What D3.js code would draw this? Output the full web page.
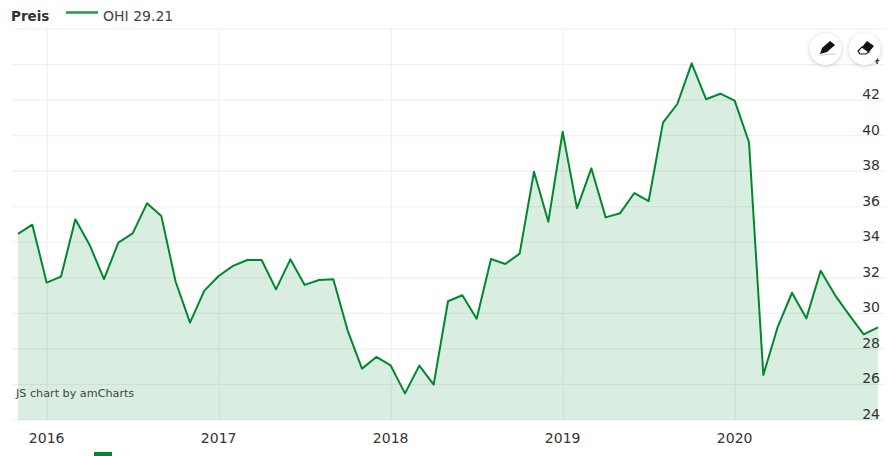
<!DOCTYPE html>
<html>
<head>
<meta charset="utf-8">
<script src="https://cdnjs.cloudflare.com/ajax/libs/d3/7.8.5/d3.min.js"></script>
<style>
body { margin: 0; background: #fff; }
text { font-family: "DejaVu Sans", sans-serif; }
</style>
</head>
<body>
<div id="chart"></div>
<script>
// monthly closes, Nov 2015 - Nov 2020
var months = ["2015-11","2015-12",
    "2016-01","2016-02","2016-03","2016-04","2016-05","2016-06","2016-07","2016-08","2016-09","2016-10","2016-11","2016-12",
    "2017-01","2017-02","2017-03","2017-04","2017-05","2017-06","2017-07","2017-08","2017-09","2017-10","2017-11","2017-12",
    "2018-01","2018-02","2018-03","2018-04","2018-05","2018-06","2018-07","2018-08","2018-09","2018-10","2018-11","2018-12",
    "2019-01","2019-02","2019-03","2019-04","2019-05","2019-06","2019-07","2019-08","2019-09","2019-10","2019-11","2019-12",
    "2020-01","2020-02","2020-03","2020-04","2020-05","2020-06","2020-07","2020-08","2020-09","2020-10","2020-11"];
var prices = [34.47,34.99,31.73,32.07,35.29,33.85,31.93,33.98,34.5,36.19,35.48,31.78,29.48,31.28,
    32.1,32.67,33.0,33.0,31.35,33.04,31.6,31.88,31.92,29.03,26.89,27.55,
    27.07,25.5,27.06,25.99,30.68,31.02,29.7,33.06,32.78,33.36,37.97,35.16,
    40.22,35.91,38.16,35.4,35.63,36.77,36.32,40.73,41.78,44.07,42.05,42.36,
    41.97,39.63,26.53,29.23,31.16,29.72,32.4,31.03,29.9,28.82,29.21];
var yTicks = [24,26,28,30,32,34,36,38,40,42,44,46];
var yearTicks = ["2016","2017","2018","2019","2020"];

var svgWidth = 895;
var svgHeight = 456;

var data = months.map((m, i) => ({month: m, price: prices[i]}));

var svg = d3.select("#chart")
    .append("svg")
    .attr("width", svgWidth)
    .attr("height", svgHeight)
    .style("display", "block");

// index scale, the months are evenly spaced on the category axis
var xScale = d3.scaleLinear()
    .domain([0, months.length - 1])
    .range([18, 878]);

var yScale = d3.scaleLinear()
    .domain([24, 46])
    .range([420, 29]);

var yearX = y => xScale(months.indexOf(y + "-01"));

// grid
svg.append("g").selectAll("line")
    .data(yTicks)
    .enter()
    .append("line")
    .attr("x1", 12)
    .attr("x2", 885)
    .attr("y1", d => yScale(d))
    .attr("y2", d => yScale(d))
    .attr("stroke", "#f0f0f0")
    .attr("stroke-width", 1.2);

svg.append("g").selectAll("line")
    .data(yearTicks)
    .enter()
    .append("line")
    .attr("x1", d => yearX(d) + 0.5)
    .attr("x2", d => yearX(d) + 0.5)
    .attr("y1", 29)
    .attr("y2", 420)
    .attr("stroke", "#f0f0f0")
    .attr("stroke-width", 1.2);

// area and line
var area = d3.area()
    .x((d, i) => xScale(i))
    .y0(yScale(24))
    .y1(d => yScale(d.price));

var line = d3.line()
    .x((d, i) => xScale(i))
    .y(d => yScale(d.price));

svg.append("path")
    .datum(data)
    .attr("d", area)
    .attr("fill", "#00882e")
    .attr("fill-opacity", 0.15);

svg.append("path")
    .datum(data)
    .attr("d", line)
    .attr("fill", "none")
    .attr("stroke", "#00882e")
    .attr("stroke-width", 2)
    .attr("stroke-linejoin", "round");

// y labels sit just above their gridline, 44 ends up behind the eraser button
svg.append("g").selectAll("text")
    .data(yTicks.filter(d => d < 46))
    .enter()
    .append("text")
    .attr("x", 880)
    .attr("y", d => yScale(d) - 1)
    .attr("text-anchor", "end")
    .attr("font-size", 14)
    .attr("fill", "#333")
    .text(d => d);

svg.append("g").selectAll("text")
    .data(yearTicks)
    .enter()
    .append("text")
    .attr("x", d => yearX(d))
    .attr("y", 443)
    .attr("text-anchor", "middle")
    .attr("font-size", 14)
    .attr("fill", "#333")
    .text(d => d);

// legend
svg.append("text")
    .attr("x", 11)
    .attr("y", 21)
    .attr("font-size", 13.5)
    .attr("font-weight", "bold")
    .attr("fill", "#333")
    .text("Preis");

svg.append("line")
    .attr("x1", 66)
    .attr("x2", 98)
    .attr("y1", 12.5)
    .attr("y2", 12.5)
    .attr("stroke", "#1f9a4a")
    .attr("stroke-width", 2.5);

svg.append("text")
    .attr("x", 103)
    .attr("y", 21)
    .attr("font-size", 14)
    .attr("fill", "#444")
    .text("OHI 29.21");

svg.append("text")
    .attr("x", 16)
    .attr("y", 397)
    .attr("font-size", 11.2)
    .attr("fill", "#444")
    .text("JS chart by amCharts");

// small green mark under the axis
svg.append("rect")
    .attr("x", 94)
    .attr("y", 452)
    .attr("width", 18)
    .attr("height", 4)
    .attr("fill", "#00882e");

// drawing buttons
var buttons = svg.append("g");
var buttonX = [825.5, 864.5];
buttons.selectAll("circle")
    .data(buttonX)
    .enter()
    .append("circle")
    .attr("cx", d => d)
    .attr("cy", 49)
    .attr("r", 16)
    .attr("fill", "#fff")
    .style("filter", "drop-shadow(0 1px 2px rgba(0,0,0,0.2))");

// pencil
buttons.append("path")
    .attr("d", "M820 54 L822 48 L830 41 L835 45 L827 52 Z")
    .attr("fill", "#111");
buttons.append("path")
    .attr("d", "M820 55 L836 54")
    .attr("stroke", "#ccc");

// eraser
buttons.append("path")
    .attr("d", "M862 47 L867 41 L874 46 L869 52 Z")
    .attr("fill", "#111");
buttons.append("path")
    .attr("d", "M862 47 L858 51 L860 54 L866 54 L869 52 Z")
    .attr("fill", "#fff")
    .attr("stroke", "#111")
    .attr("stroke-width", 1.2);
</script>
</body>
</html>
